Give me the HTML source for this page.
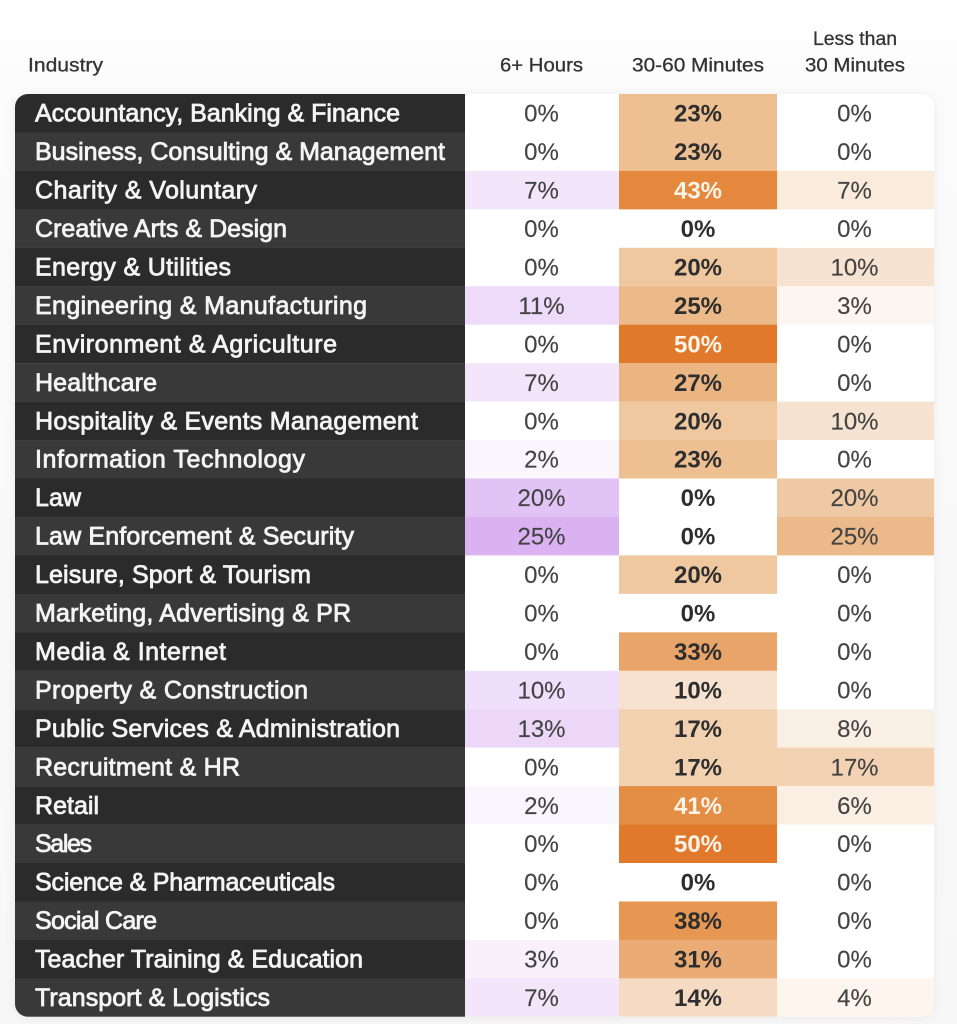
<!DOCTYPE html>
<html>
<head>
<meta charset="utf-8">
<style>
html,body{margin:0;padding:0;background:#f9f9fa;}
svg{display:block;}
</style>
</head>
<body>
<svg width="957" height="1024" viewBox="0 0 957 1024" xmlns="http://www.w3.org/2000/svg" font-family="'Liberation Sans', Arial, sans-serif">
<defs>
  <linearGradient id="bg" x1="0" y1="0" x2="0" y2="1">
    <stop offset="0" stop-color="#ffffff"/>
    <stop offset="0.1" stop-color="#fbfbfb"/>
    <stop offset="1" stop-color="#f7f7f8"/>
  </linearGradient>
  <filter id="sh" x="-5%" y="-5%" width="110%" height="110%">
    <feDropShadow dx="0" dy="1" stdDeviation="5" flood-color="#000" flood-opacity="0.06"/>
  </filter>
  <clipPath id="tc"><rect x="15" y="94" width="919" height="922.8" rx="13" ry="13"/></clipPath>
</defs>
<rect width="957" height="1024" fill="url(#bg)"/>
<rect x="15" y="94" width="919" height="922.8" rx="13" fill="#ffffff" filter="url(#sh)"/>

<!-- headers -->
<g fill="#333" stroke="#333" stroke-width="0.3" font-size="19">
  <text x="28" y="71.5" textLength="75" lengthAdjust="spacingAndGlyphs">Industry</text>
  <text x="500" y="71.5" textLength="83" lengthAdjust="spacingAndGlyphs">6+ Hours</text>
  <text x="632" y="71.5" textLength="132" lengthAdjust="spacingAndGlyphs">30-60 Minutes</text>
  <text x="813" y="45" textLength="84" lengthAdjust="spacingAndGlyphs">Less than</text>
  <text x="805" y="71.5" textLength="100" lengthAdjust="spacingAndGlyphs">30 Minutes</text>
</g>

<g clip-path="url(#tc)">
<g transform="translate(0,94)">
  <rect x="15" y="0" width="450" height="38.6" fill="#2b2b2b"/>
  <rect x="465" width="154" height="38.6" fill="#ffffff"/>
  <rect x="619" width="158" height="38.6" fill="#edbf91"/>
  <rect x="777" width="157" height="38.6" fill="#ffffff"/>
  <text x="35" y="27.7" class="n" textLength="365">Accountancy, Banking &amp; Finance</text>
  <text x="541.5" y="27.7" class="a">0%</text><text x="698" y="27.7" class="b">23%</text><text x="854.5" y="27.7" class="a">0%</text>
</g>
<g transform="translate(0,132.45)">
  <rect x="15" y="0" width="450" height="38.6" fill="#393939"/>
  <rect x="465" width="154" height="38.6" fill="#ffffff"/>
  <rect x="619" width="158" height="38.6" fill="#edbf91"/>
  <rect x="777" width="157" height="38.6" fill="#ffffff"/>
  <text x="35" y="27.7" class="n" textLength="410">Business, Consulting &amp; Management</text>
  <text x="541.5" y="27.7" class="a">0%</text><text x="698" y="27.7" class="b">23%</text><text x="854.5" y="27.7" class="a">0%</text>
</g>
<g transform="translate(0,170.9)">
  <rect x="15" y="0" width="450" height="38.6" fill="#2b2b2b"/>
  <rect x="465" width="154" height="38.6" fill="#f3e6fb"/>
  <rect x="619" width="158" height="38.6" fill="#e3883c"/>
  <rect x="777" width="157" height="38.6" fill="#fbebdd"/>
  <text x="35" y="27.7" class="n" textLength="222">Charity &amp; Voluntary</text>
  <text x="541.5" y="27.7" class="a">7%</text><text x="698" y="27.7" class="w">43%</text><text x="854.5" y="27.7" class="a">7%</text>
</g>
<g transform="translate(0,209.35)">
  <rect x="15" y="0" width="450" height="38.6" fill="#393939"/>
  <rect x="465" width="154" height="38.6" fill="#ffffff"/>
  <rect x="619" width="158" height="38.6" fill="#ffffff"/>
  <rect x="777" width="157" height="38.6" fill="#ffffff"/>
  <text x="35" y="27.7" class="n" textLength="252">Creative Arts &amp; Design</text>
  <text x="541.5" y="27.7" class="a">0%</text><text x="698" y="27.7" class="b">0%</text><text x="854.5" y="27.7" class="a">0%</text>
</g>
<g transform="translate(0,247.8)">
  <rect x="15" y="0" width="450" height="38.6" fill="#2b2b2b"/>
  <rect x="465" width="154" height="38.6" fill="#ffffff"/>
  <rect x="619" width="158" height="38.6" fill="#efc8a0"/>
  <rect x="777" width="157" height="38.6" fill="#f7e3d1"/>
  <text x="35" y="27.7" class="n" textLength="196">Energy &amp; Utilities</text>
  <text x="541.5" y="27.7" class="a">0%</text><text x="698" y="27.7" class="b">20%</text><text x="854.5" y="27.7" class="a">10%</text>
</g>
<g transform="translate(0,286.25)">
  <rect x="15" y="0" width="450" height="38.6" fill="#393939"/>
  <rect x="465" width="154" height="38.6" fill="#eedbf9"/>
  <rect x="619" width="158" height="38.6" fill="#ecba89"/>
  <rect x="777" width="157" height="38.6" fill="#fdf6f0"/>
  <text x="35" y="27.7" class="n" textLength="332">Engineering &amp; Manufacturing</text>
  <text x="541.5" y="27.7" class="a">11%</text><text x="698" y="27.7" class="b">25%</text><text x="854.5" y="27.7" class="a">3%</text>
</g>
<g transform="translate(0,324.7)">
  <rect x="15" y="0" width="450" height="38.6" fill="#2b2b2b"/>
  <rect x="465" width="154" height="38.6" fill="#ffffff"/>
  <rect x="619" width="158" height="38.6" fill="#e0792c"/>
  <rect x="777" width="157" height="38.6" fill="#ffffff"/>
  <text x="35" y="27.7" class="n" textLength="302">Environment &amp; Agriculture</text>
  <text x="541.5" y="27.7" class="a">0%</text><text x="698" y="27.7" class="w">50%</text><text x="854.5" y="27.7" class="a">0%</text>
</g>
<g transform="translate(0,363.15)">
  <rect x="15" y="0" width="450" height="38.6" fill="#393939"/>
  <rect x="465" width="154" height="38.6" fill="#f3e6fb"/>
  <rect x="619" width="158" height="38.6" fill="#ebb582"/>
  <rect x="777" width="157" height="38.6" fill="#ffffff"/>
  <text x="35" y="27.7" class="n" textLength="122">Healthcare</text>
  <text x="541.5" y="27.7" class="a">7%</text><text x="698" y="27.7" class="b">27%</text><text x="854.5" y="27.7" class="a">0%</text>
</g>
<g transform="translate(0,401.6)">
  <rect x="15" y="0" width="450" height="38.6" fill="#2b2b2b"/>
  <rect x="465" width="154" height="38.6" fill="#ffffff"/>
  <rect x="619" width="158" height="38.6" fill="#efc8a0"/>
  <rect x="777" width="157" height="38.6" fill="#f7e3d1"/>
  <text x="35" y="27.7" class="n" textLength="383">Hospitality &amp; Events Management</text>
  <text x="541.5" y="27.7" class="a">0%</text><text x="698" y="27.7" class="b">20%</text><text x="854.5" y="27.7" class="a">10%</text>
</g>
<g transform="translate(0,440.05)">
  <rect x="15" y="0" width="450" height="38.6" fill="#393939"/>
  <rect x="465" width="154" height="38.6" fill="#faf6fd"/>
  <rect x="619" width="158" height="38.6" fill="#edbf91"/>
  <rect x="777" width="157" height="38.6" fill="#ffffff"/>
  <text x="35" y="27.7" class="n" textLength="270">Information Technology</text>
  <text x="541.5" y="27.7" class="a">2%</text><text x="698" y="27.7" class="b">23%</text><text x="854.5" y="27.7" class="a">0%</text>
</g>
<g transform="translate(0,478.5)">
  <rect x="15" y="0" width="450" height="38.6" fill="#2b2b2b"/>
  <rect x="465" width="154" height="38.6" fill="#e2c3f5"/>
  <rect x="619" width="158" height="38.6" fill="#ffffff"/>
  <rect x="777" width="157" height="38.6" fill="#efc9a3"/>
  <text x="35" y="27.7" class="n" textLength="46">Law</text>
  <text x="541.5" y="27.7" class="a">20%</text><text x="698" y="27.7" class="b">0%</text><text x="854.5" y="27.7" class="a">20%</text>
</g>
<g transform="translate(0,516.95)">
  <rect x="15" y="0" width="450" height="38.6" fill="#393939"/>
  <rect x="465" width="154" height="38.6" fill="#dab2f2"/>
  <rect x="619" width="158" height="38.6" fill="#ffffff"/>
  <rect x="777" width="157" height="38.6" fill="#ebb98a"/>
  <text x="35" y="27.7" class="n" textLength="319">Law Enforcement &amp; Security</text>
  <text x="541.5" y="27.7" class="a">25%</text><text x="698" y="27.7" class="b">0%</text><text x="854.5" y="27.7" class="a">25%</text>
</g>
<g transform="translate(0,555.4)">
  <rect x="15" y="0" width="450" height="38.6" fill="#2b2b2b"/>
  <rect x="465" width="154" height="38.6" fill="#ffffff"/>
  <rect x="619" width="158" height="38.6" fill="#efc8a0"/>
  <rect x="777" width="157" height="38.6" fill="#ffffff"/>
  <text x="35" y="27.7" class="n" textLength="276">Leisure, Sport &amp; Tourism</text>
  <text x="541.5" y="27.7" class="a">0%</text><text x="698" y="27.7" class="b">20%</text><text x="854.5" y="27.7" class="a">0%</text>
</g>
<g transform="translate(0,593.85)">
  <rect x="15" y="0" width="450" height="38.6" fill="#393939"/>
  <rect x="465" width="154" height="38.6" fill="#ffffff"/>
  <rect x="619" width="158" height="38.6" fill="#ffffff"/>
  <rect x="777" width="157" height="38.6" fill="#ffffff"/>
  <text x="35" y="27.7" class="n" textLength="316">Marketing, Advertising &amp; PR</text>
  <text x="541.5" y="27.7" class="a">0%</text><text x="698" y="27.7" class="b">0%</text><text x="854.5" y="27.7" class="a">0%</text>
</g>
<g transform="translate(0,632.3)">
  <rect x="15" y="0" width="450" height="38.6" fill="#2b2b2b"/>
  <rect x="465" width="154" height="38.6" fill="#ffffff"/>
  <rect x="619" width="158" height="38.6" fill="#e9a569"/>
  <rect x="777" width="157" height="38.6" fill="#ffffff"/>
  <text x="35" y="27.7" class="n" textLength="191">Media &amp; Internet</text>
  <text x="541.5" y="27.7" class="a">0%</text><text x="698" y="27.7" class="b">33%</text><text x="854.5" y="27.7" class="a">0%</text>
</g>
<g transform="translate(0,670.75)">
  <rect x="15" y="0" width="450" height="38.6" fill="#393939"/>
  <rect x="465" width="154" height="38.6" fill="#efdffa"/>
  <rect x="619" width="158" height="38.6" fill="#f6e2cf"/>
  <rect x="777" width="157" height="38.6" fill="#ffffff"/>
  <text x="35" y="27.7" class="n" textLength="273">Property &amp; Construction</text>
  <text x="541.5" y="27.7" class="a">10%</text><text x="698" y="27.7" class="b">10%</text><text x="854.5" y="27.7" class="a">0%</text>
</g>
<g transform="translate(0,709.2)">
  <rect x="15" y="0" width="450" height="38.6" fill="#2b2b2b"/>
  <rect x="465" width="154" height="38.6" fill="#ecd7f9"/>
  <rect x="619" width="158" height="38.6" fill="#f2d1b1"/>
  <rect x="777" width="157" height="38.6" fill="#faefe5"/>
  <text x="35" y="27.7" class="n" textLength="365">Public Services &amp; Administration</text>
  <text x="541.5" y="27.7" class="a">13%</text><text x="698" y="27.7" class="b">17%</text><text x="854.5" y="27.7" class="a">8%</text>
</g>
<g transform="translate(0,747.65)">
  <rect x="15" y="0" width="450" height="38.6" fill="#393939"/>
  <rect x="465" width="154" height="38.6" fill="#ffffff"/>
  <rect x="619" width="158" height="38.6" fill="#f2d1b1"/>
  <rect x="777" width="157" height="38.6" fill="#f2d2b3"/>
  <text x="35" y="27.7" class="n" textLength="205">Recruitment &amp; HR</text>
  <text x="541.5" y="27.7" class="a">0%</text><text x="698" y="27.7" class="b">17%</text><text x="854.5" y="27.7" class="a">17%</text>
</g>
<g transform="translate(0,786.1)">
  <rect x="15" y="0" width="450" height="38.6" fill="#2b2b2b"/>
  <rect x="465" width="154" height="38.6" fill="#faf6fd"/>
  <rect x="619" width="158" height="38.6" fill="#e48e45"/>
  <rect x="777" width="157" height="38.6" fill="#fbeee2"/>
  <text x="35" y="27.7" class="n" textLength="64">Retail</text>
  <text x="541.5" y="27.7" class="a">2%</text><text x="698" y="27.7" class="w">41%</text><text x="854.5" y="27.7" class="a">6%</text>
</g>
<g transform="translate(0,824.55)">
  <rect x="15" y="0" width="450" height="38.6" fill="#393939"/>
  <rect x="465" width="154" height="38.6" fill="#ffffff"/>
  <rect x="619" width="158" height="38.6" fill="#e0792c"/>
  <rect x="777" width="157" height="38.6" fill="#ffffff"/>
  <text x="35" y="27.7" class="n" textLength="57">Sales</text>
  <text x="541.5" y="27.7" class="a">0%</text><text x="698" y="27.7" class="w">50%</text><text x="854.5" y="27.7" class="a">0%</text>
</g>
<g transform="translate(0,863)">
  <rect x="15" y="0" width="450" height="38.6" fill="#2b2b2b"/>
  <rect x="465" width="154" height="38.6" fill="#ffffff"/>
  <rect x="619" width="158" height="38.6" fill="#ffffff"/>
  <rect x="777" width="157" height="38.6" fill="#ffffff"/>
  <text x="35" y="27.7" class="n" textLength="300">Science &amp; Pharmaceuticals</text>
  <text x="541.5" y="27.7" class="a">0%</text><text x="698" y="27.7" class="b">0%</text><text x="854.5" y="27.7" class="a">0%</text>
</g>
<g transform="translate(0,901.45)">
  <rect x="15" y="0" width="450" height="38.6" fill="#393939"/>
  <rect x="465" width="154" height="38.6" fill="#ffffff"/>
  <rect x="619" width="158" height="38.6" fill="#e69852"/>
  <rect x="777" width="157" height="38.6" fill="#ffffff"/>
  <text x="35" y="27.7" class="n" textLength="122">Social Care</text>
  <text x="541.5" y="27.7" class="a">0%</text><text x="698" y="27.7" class="b">38%</text><text x="854.5" y="27.7" class="a">0%</text>
</g>
<g transform="translate(0,939.9)">
  <rect x="15" y="0" width="450" height="38.6" fill="#2b2b2b"/>
  <rect x="465" width="154" height="38.6" fill="#f8f1fc"/>
  <rect x="619" width="158" height="38.6" fill="#eaac74"/>
  <rect x="777" width="157" height="38.6" fill="#ffffff"/>
  <text x="35" y="27.7" class="n" textLength="328">Teacher Training &amp; Education</text>
  <text x="541.5" y="27.7" class="a">3%</text><text x="698" y="27.7" class="b">31%</text><text x="854.5" y="27.7" class="a">0%</text>
</g>
<g transform="translate(0,978.35)">
  <rect x="15" y="0" width="450" height="38.6" fill="#393939"/>
  <rect x="465" width="154" height="38.6" fill="#f3e6fb"/>
  <rect x="619" width="158" height="38.6" fill="#f5dbc3"/>
  <rect x="777" width="157" height="38.6" fill="#fdf5ee"/>
  <text x="35" y="27.7" class="n" textLength="235">Transport &amp; Logistics</text>
  <text x="541.5" y="27.7" class="a">7%</text><text x="698" y="27.7" class="b">14%</text><text x="854.5" y="27.7" class="a">4%</text>
</g>
</g>

<style>
  .n{fill:#f4f4f4;font-size:25px;stroke:#f4f4f4;stroke-width:0.8px;}
  .a{fill:#444444;font-size:24px;text-anchor:middle;stroke:#444444;stroke-width:0.15px;}
  .b{fill:#2e2e2e;font-size:24px;font-weight:bold;text-anchor:middle;}
  .w{fill:#fff4e8;font-size:24px;font-weight:bold;text-anchor:middle;}
</style>
</svg>
</body>
</html>
